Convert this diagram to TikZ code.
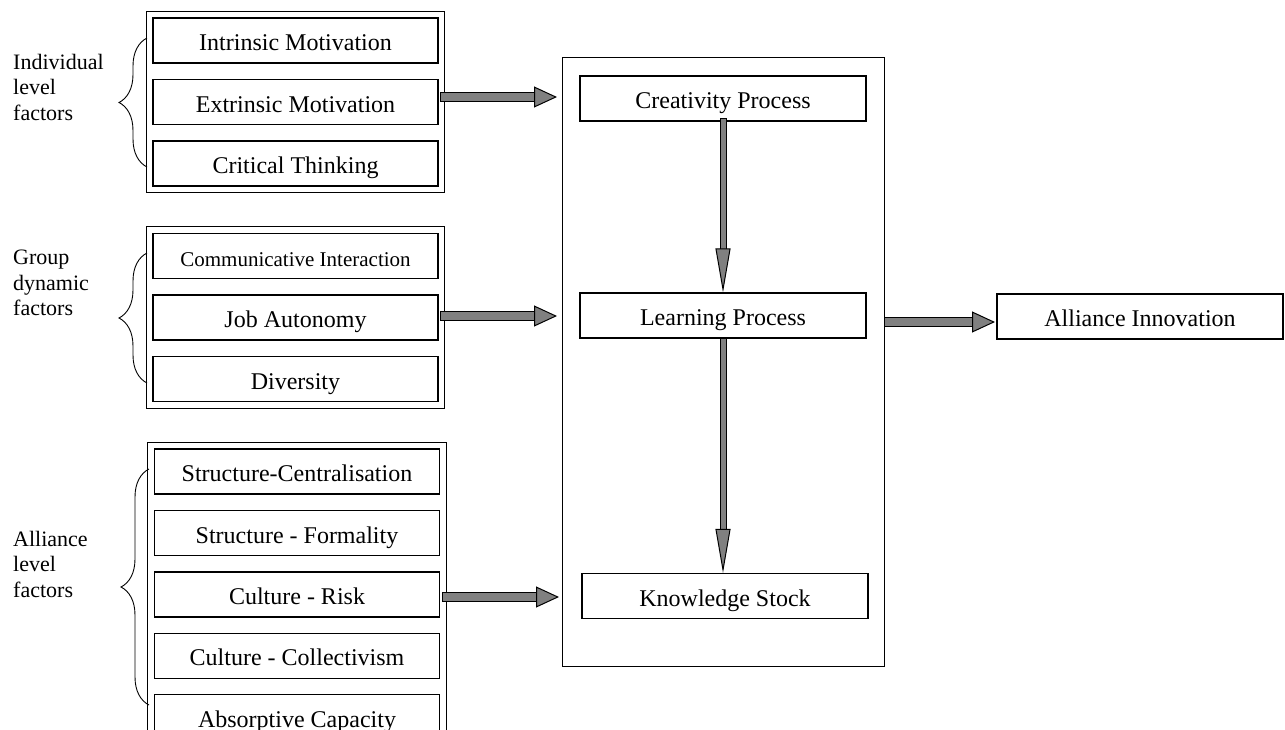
\documentclass[tikz,border=0pt]{standalone}
\usepackage{fontspec}
\setmainfont{Liberation Serif}
\usetikzlibrary{positioning,fit,arrows.meta,decorations.pathreplacing}
\definecolor{arrowgray}{RGB}{128,128,128}
\begin{document}
\begin{tikzpicture}[x=1pt, y=-1pt, node distance=15pt,
    factor/.style={draw, line width=1.4pt, minimum width=285pt, minimum height=45pt, inner sep=0pt,
        text height=20.5pt, text depth=0pt, font=\fontsize{24}{26}\selectfont},
    group/.style={draw, line width=0.9pt, inner sep=6pt},
    stage/.style={draw, line width=1.2pt, minimum width=286pt, minimum height=45pt, inner sep=0pt,
        text height=20pt, text depth=0pt, font=\fontsize{24}{26}\selectfont},
    side/.style={anchor=west, align=left, inner sep=0pt, font=\fontsize{22}{25.5}\selectfont},
    curly/.style={decorate, decoration={brace, amplitude=28pt}, line width=0.9pt},
    fatarrow/.style={double=arrowgray, double distance=8pt, line width=1pt, line cap=rect,
        -{Triangle[length=23pt, width=21pt, line width=1pt, fill=arrowgray]}},
    longarrow/.style={double=arrowgray, double distance=5pt, line width=1pt, line cap=rect,
        -{Triangle[length=44pt, width=15pt, line width=1pt, fill=arrowgray]}}]
    \useasboundingbox (0,0) rectangle (1285,729);
    \clip (0,0) rectangle (1285,729);
    % individual level
    \node[factor] (intr) at (295.5,40.5) {Intrinsic Motivation};
    \node[factor, below=of intr] (extr) {Extrinsic Motivation};
    \node[factor, below=of extr] (crit) {Critical Thinking};
    \node[group, fit=(intr)(crit)] (indiv) {};
    % group dynamic
    \node[factor, font=\fontsize{21}{24}\selectfont] (comm) at (295.5,256) {Communicative Interaction};
    \node[factor, below=of comm] (auto) {Job Autonomy};
    \node[factor, below=of auto] (divers) {Diversity};
    \node[group, fit=(comm)(divers)] (grp) {};
    % alliance level
    \node[factor] (centr) at (297,471.5) {Structure-Centralisation};
    \node[factor, below=of centr] (formal) {Structure - Formality};
    \node[factor, below=of formal] (risk) {Culture - Risk};
    \node[factor, below=of risk] (coll) {Culture - Collectivism};
    \node[factor, below=of coll] (absorb) {Absorptive Capacity};
    \node[group, fit=(centr)(absorb)] (alli) {};
    % braces and labels
    \draw[curly] (147,167) -- (147,38);
    \draw[curly] (147,383) -- (147,253);
    \draw[curly] (149,705) -- (149,469);
    \node[side] (lblind) at (13,87) {Individual\\level\\factors};
    \node[side] (lblgrp) at (13,283) {Group\\dynamic\\factors};
    \node[side] (lblall) at (13,564) {Alliance\\level\\factors};
    % process
    \node[draw, line width=1pt, minimum width=322pt, minimum height=609pt] (core) at (723,361.5) {};
    \node[stage] (creat) at (723,98.5) {Creativity Process};
    \node[stage] (learn) at (723,315.5) {Learning Process};
    \node[stage] (know) at (725,596) {Knowledge Stock};
    \node[stage] (innov) at (1140,316.5) {Alliance Innovation};
    \coordinate (in1) at (557,97);
    \coordinate (in2) at (557,316);
    \coordinate (in3) at (559,597);
    \coordinate (out) at (995,322);
    \draw[fatarrow] (indiv.east |- in1) -- (in1);
    \draw[fatarrow] (grp.east |- in2) -- (in2);
    \draw[fatarrow] (alli.east |- in3) -- (in3);
    \draw[fatarrow, shorten <=4pt] (core.east |- out) -- (out);
    \draw[longarrow] (creat.south) -- (learn.north);
    \draw[longarrow, shorten <=3pt] (learn.south) -- (learn.south |- know.north);
\end{tikzpicture}
\end{document}
